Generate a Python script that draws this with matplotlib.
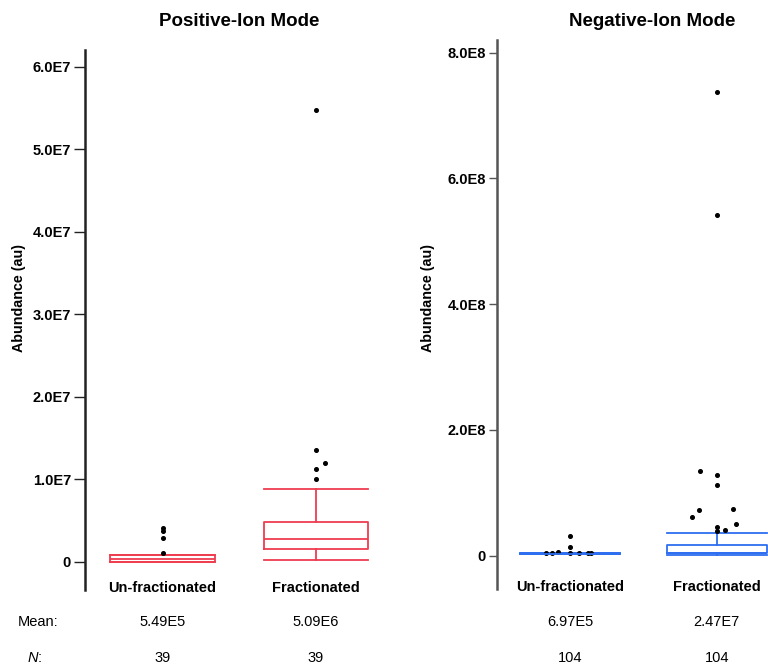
import matplotlib
matplotlib.use('Agg')
import matplotlib.pyplot as plt
import matplotlib.transforms as mtransforms

plt.rcParams['font.family'] = ['Liberation Sans', 'DejaVu Sans']

# data
groups = ['Un-fractionated', 'Fractionated']

pos_q1 = [0.03e6, 1.54e6]
pos_med = [0.36e6, 2.83e6]
pos_q3 = [0.81e6, 4.85e6]
pos_lo = [0.0, 0.24e6]
pos_hi = [0.81e6, 8.81e6]
pos_out = [[1.13e6, 2.95e6, 3.8e6, 4.16e6],
           [10.1e6, 11.27e6, 11.96e6, 13.6e6, 54.7e6]]
pos_jit = [[0, 0, 0, 0],
           [0, 0, 0.06, 0, 0]]
pos_mean = ['5.49E5', '5.09E6']
pos_n = ['39', '39']

neg_q1 = [2.6e6, 3.5e6]
neg_med = [3.2e6, 4.5e6]
neg_q3 = [3.8e6, 16.5e6]
neg_lo = [2.0e6, 0.3e6]
neg_hi = [4.2e6, 36e6]
neg_out = [[4.3e6, 3.8e6, 5.4e6, 3.8e6, 14.3e6, 31.3e6, 4.3e6, 4.3e6, 4.0e6],
           [134e6, 128.8e6, 112e6, 72.7e6, 61e6, 74.8e6, 50.4e6, 46e6, 38.8e6, 41.4e6, 542e6, 737e6]]
neg_jit = [[-0.165, -0.127, -0.084, 0, 0, 0, 0.063, 0.124, 0.143],
           [-0.114, 0, 0, -0.122, -0.168, 0.109, 0.129, 0, 0, 0.059, 0, 0]]
neg_mean = ['6.97E5', '2.47E7']
neg_n = ['104', '104']


def make_stats(q1, med, q3, lo, hi):
    return [dict(q1=q1[i], med=med[i], q3=q3[i], whislo=lo[i], whishi=hi[i], fliers=[])
            for i in range(len(q1))]


def draw_panel(ax, stats, outs, jits, color, spine_col, ticklen):
    props = dict(color=color, linewidth=1.3)
    ax.bxp(stats, positions=[1, 2], widths=0.68, capwidths=0.68, showfliers=False,
           boxprops=props, medianprops=props, whiskerprops=props, capprops=props)
    for i, (vals, dx) in enumerate(zip(outs, jits)):
        xs = [i + 1 + d for d in dx]
        ax.plot(xs, vals, 'o', color='black', markersize=2.6, linestyle='none')
    for s in ['top', 'right', 'bottom']:
        ax.spines[s].set_visible(False)
    ax.spines['left'].set_color(spine_col)
    ax.spines['left'].set_linewidth(1.8)
    ax.set_xticks([])
    ax.tick_params(axis='y', length=ticklen, width=1.0, color=spine_col, pad=2,
                   labelsize=10.5)
    for i, g in enumerate(groups):
        ax.text(i + 1, 0.004, g, transform=ax.get_xaxis_transform(), ha='center', va='center',
                fontsize=10.5, fontweight='bold')


fig = plt.figure(figsize=(7.68, 6.66), dpi=100)

# positive-ion panel
ax1 = fig.add_axes([85/768, 76/666, 300/768, 540/666])
draw_panel(ax1, make_stats(pos_q1, pos_med, pos_q3, pos_lo, pos_hi), pos_out, pos_jit,
           '#ee3d4f', '#222222', 8)
ax1.set_xlim(0.494, 2.45)
ax1.set_ylim(-3.4e6, 6.2e7)
pos_ticks = [0, 1e7, 2e7, 3e7, 4e7, 5e7, 6e7]
ax1.set_yticks(pos_ticks, ['0', '1.0E7', '2.0E7', '3.0E7', '4.0E7', '5.0E7', '6.0E7'],
               fontweight='bold')
ax1.set_ylabel('Abundance (au)', fontsize=10.3, fontweight='bold')
ax1.yaxis.set_label_coords(-0.198, 0.54)

# negative-ion panel
ax2 = fig.add_axes([497/768, 77/666, 271/768, 549/666])
draw_panel(ax2, make_stats(neg_q1, neg_med, neg_q3, neg_lo, neg_hi), neg_out, neg_jit,
           '#2e6ef0', '#555555', 6)
ax2.set_xlim(0.501, 2.35)
ax2.set_ylim(-0.53e8, 8.2e8)
neg_ticks = [0, 2e8, 4e8, 6e8, 8e8]
ax2.set_yticks(neg_ticks, ['0', '2.0E8', '4.0E8', '6.0E8', '8.0E8'], fontweight='bold')
ax2.set_ylabel('Abundance (au)', fontsize=10.3, fontweight='bold')
ax2.yaxis.set_label_coords(-0.228, 0.53)

fig.text(239/768, 1 - 22/666, 'Positive-Ion Mode', ha='center', va='center',
         fontsize=13.5, fontweight='bold')
fig.text(652/768, 1 - 22/666, 'Negative-Ion Mode', ha='center', va='center',
         fontsize=13.5, fontweight='bold')

# summary rows under the plots
row_mean = 1 - 622/666
row_n = 1 - 658/666
fig.text(38/768, row_mean, 'Mean:', ha='center', va='center', fontsize=10.5)
fig.text(38/768, row_n, 'N', ha='right', va='center', fontsize=10.5, style='italic')
fig.text(38/768, row_n, ':', ha='left', va='center', fontsize=10.5)
for ax, means, ns in [(ax1, pos_mean, pos_n), (ax2, neg_mean, neg_n)]:
    tr = mtransforms.blended_transform_factory(ax.transData, fig.transFigure)
    for i in range(2):
        fig.text(i + 1, row_mean, means[i], transform=tr, ha='center', va='center', fontsize=10.5)
        fig.text(i + 1, row_n, ns[i], transform=tr, ha='center', va='center', fontsize=10.5)

plt.savefig('out.png', dpi=100)
